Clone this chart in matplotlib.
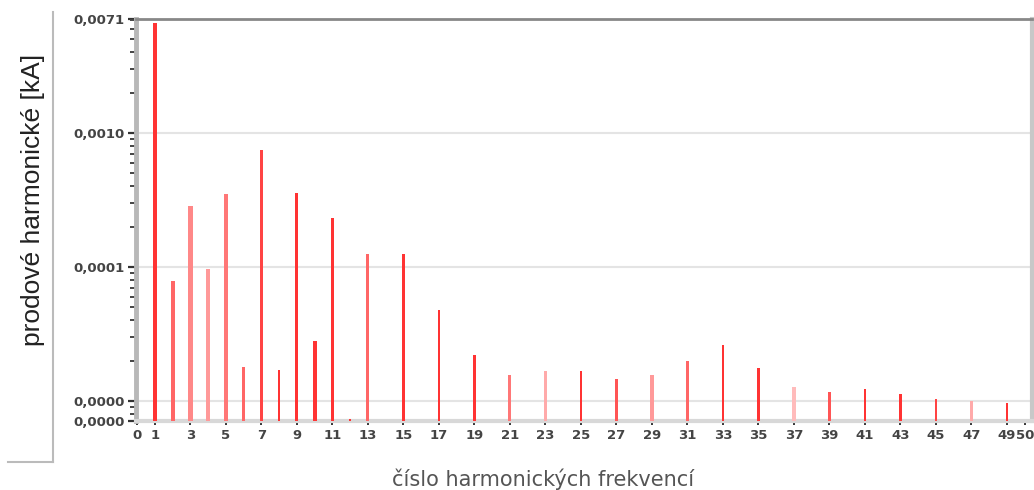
import matplotlib
matplotlib.use("Agg")
import matplotlib.pyplot as plt
from matplotlib.lines import Line2D
from matplotlib.ticker import FixedLocator, LogLocator, NullFormatter

# ---- data ----
harmonics = [1, 2, 3, 4, 5, 6, 7, 8, 9, 10, 11, 12, 13, 15, 17, 19, 21, 23, 25,
             27, 29, 31, 33, 35, 37, 39, 41, 43, 45, 47, 49]
current_kA = [6.6e-3, 7.9e-5, 2.84e-4, 9.6e-5, 3.54e-4, 1.8e-5, 7.45e-4, 1.71e-5,
              3.6e-4, 2.83e-5, 2.33e-4, 7.4e-6, 1.25e-4, 1.25e-4, 4.75e-5, 2.2e-5,
              1.57e-5, 1.68e-5, 1.68e-5, 1.46e-5, 1.56e-5, 2.0e-5, 2.6e-5, 1.76e-5,
              1.27e-5, 1.16e-5, 1.23e-5, 1.12e-5, 1.04e-5, 1.0e-5, 0.97e-5]
x_ticks = [0] + list(range(1, 50, 2)) + [50]
x_tick_labels = [str(t) for t in x_ticks]
y_ticks = [7.1e-6, 1e-5, 1e-4, 1e-3, 7.1e-3]
y_tick_labels = ["0,0000", "0,0000", "0,0001", "0,0010", "0,0071"]
x_label = "číslo harmonických frekvencí"
y_label = "prodové harmonické [kA]"

# ---- styles (per bar) ----
bar_widths = [0.28, 0.22, 0.30, 0.22, 0.20, 0.14, 0.12, 0.12, 0.17, 0.22, 0.12, 0.12,
              0.17, 0.12, 0.12, 0.22, 0.17, 0.15, 0.12, 0.20, 0.20, 0.15, 0.07, 0.20,
              0.22, 0.20, 0.12, 0.20, 0.12, 0.17, 0.12]
bar_colors = ["#ff3333", "#ff6666", "#ff8888", "#ff9999", "#ff7777", "#ff6666",
              "#ff4444", "#ff3333", "#ff3333", "#ff3333", "#ff3333", "#ff3333",
              "#ff6666", "#ff3333", "#ff3333", "#ff3333", "#ff7777", "#ffaaaa",
              "#ff3333", "#ff5555", "#ff9999", "#ff6666", "#ff3333", "#ff3333",
              "#ffbbbb", "#ff5555", "#ff3333", "#ff3333", "#ff4444", "#ffaaaa",
              "#ff3333"]

W, H = 1034, 490
fig = plt.figure(figsize=(W / 100, H / 100), dpi=100)
ax = fig.add_axes([136 / W, (H - 421) / H, (1032 - 136) / W, (421 - 19) / H])

ax.bar(harmonics, current_kA, width=bar_widths, color=bar_colors, zorder=3)
ax.set_yscale("log")
ax.set_ylim(7.1e-6, 7.1e-3)
ax.set_xlim(-0.07, 50.41)

ax.yaxis.set_major_locator(FixedLocator(y_ticks))
ax.set_yticklabels(y_tick_labels)
ax.yaxis.set_minor_locator(LogLocator(base=10, subs=range(2, 10), numticks=20))
ax.yaxis.set_minor_formatter(NullFormatter())
ax.set_xticks(x_ticks)
ax.set_xticklabels(x_tick_labels)

ax.tick_params(axis="y", which="major", length=6, width=1.6, color="#333333",
               labelsize=9.5, labelcolor="#444444", pad=2)
ax.tick_params(axis="y", which="minor", length=4, width=1.4, color="#444444")
ax.tick_params(axis="x", which="major", length=3, width=1.4, color="#333333",
               labelsize=9.5, labelcolor="#444444", pad=3)
for lbl in ax.get_xticklabels() + ax.get_yticklabels():
    lbl.set_fontweight("bold")

ax.set_axisbelow(True)
ax.yaxis.grid(True, which="major", color="#e4e4e4", lw=1.5)

ax.spines["left"].set_color("#b8b8b8")
ax.spines["left"].set_linewidth(3.5)
ax.spines["bottom"].set_color("#d8d8d8")
ax.spines["bottom"].set_linewidth(3)
ax.spines["top"].set_color("#888888")
ax.spines["top"].set_linewidth(2)
ax.spines["right"].set_color("#c8c8c8")
ax.spines["right"].set_linewidth(3)

fig.text(33 / W, 1 - 200 / H, y_label, rotation=90, ha="center", va="center",
         fontsize=19, family=["Liberation Sans", "DejaVu Sans"], color="#222222")
fig.text(543 / W, 1 - 479 / H, x_label, ha="center", va="center",
         fontsize=15, family=["DejaVu Sans"], color="#555555")

# decorative frame line at left
fig.add_artist(Line2D([53 / W, 53 / W], [1 - 12 / H, 1 - 462 / H],
                      transform=fig.transFigure, color="#bbbbbb", lw=1.5))
fig.add_artist(Line2D([8 / W, 53 / W], [1 - 462 / H, 1 - 462 / H],
                      transform=fig.transFigure, color="#bbbbbb", lw=1.5))

fig.savefig("out.png", dpi=100)
